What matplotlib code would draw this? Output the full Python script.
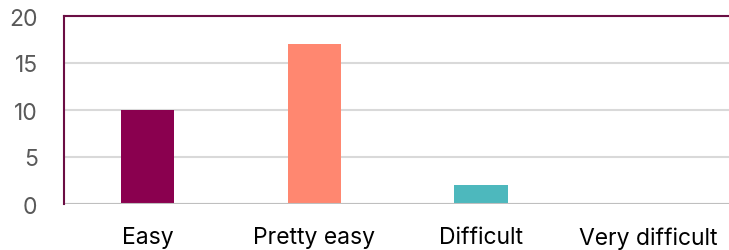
import matplotlib
matplotlib.use("Agg")
import matplotlib.pyplot as plt

matplotlib.rcParams['font.family'] = ["Inter", "DejaVu Sans"]

categories = ["Easy", "Pretty easy", "Difficult", "Very difficult"]
counts = [10, 17, 2, 0]
colors = ["#8A004F", "#FF8770", "#4DB8BD", "#4DB8BD"]
yticks = [0, 5, 10, 15, 20]

fig = plt.figure(figsize=(7.29, 2.51), dpi=100)
ax = fig.add_axes([64/729, 1-205/251, 1-64/729, (205-17)/251])

x = range(len(categories))
ax.bar(x, counts, width=0.32, color=colors, zorder=3)

ax.set_xlim(-0.5, 3.485)
ax.set_ylim(0, 20)
ax.set_yticks(yticks)
ax.set_xticks(list(x))
ax.set_xticklabels(categories, fontsize=16.5, color="black")
ax.tick_params(axis="y", labelsize=16.5, labelcolor="#595959", length=0, pad=19)
ax.tick_params(axis="x", length=0, pad=16)

ax.grid(axis="y", color="#D9D9D9", linewidth=1.5, zorder=0)
ax.axhline(0, color="#BFBFBF", linewidth=1.5, zorder=4)

for side in ["right", "bottom"]:
    ax.spines[side].set_visible(False)
for side in ["left", "top"]:
    ax.spines[side].set_color("#6B0E44")
    ax.spines[side].set_linewidth(1.5)
    ax.spines[side].set_zorder(5)

fig.savefig("out.png", dpi=100)
